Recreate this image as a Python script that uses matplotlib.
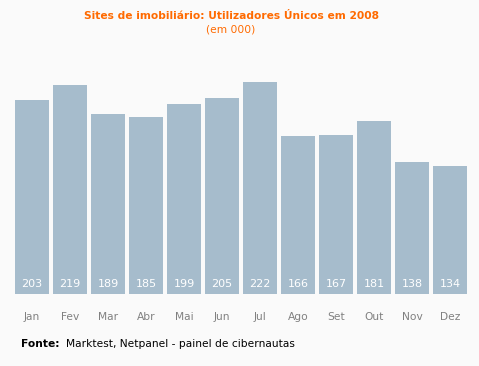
import matplotlib
matplotlib.use('Agg')
import matplotlib.pyplot as plt
import numpy as np

plt.rcParams['font.family'] = ['DejaVu Sans']

months = ['Jan', 'Fev', 'Mar', 'Abr', 'Mai', 'Jun', 'Jul', 'Ago', 'Set', 'Out', 'Nov', 'Dez']
users = [203, 219, 189, 185, 199, 205, 222, 166, 167, 181, 138, 134]

BG = '#fafafa'
BAR = '#a6bccc'
ORANGE = '#ff6a00'

fig = plt.figure(figsize=(4.79, 3.66), dpi=100, facecolor=BG)
ax = fig.add_axes([13 / 479, 72 / 366, 456 / 479, 229 / 366])
ax.set_facecolor(BG)

x = np.arange(len(months))
ax.bar(x, users, width=0.895, color=BAR, edgecolor='none')
ax.set_xlim(-0.5, len(months) - 0.5)
ax.set_ylim(0, 240)

for xi, v in zip(x, users):
    ax.text(xi, 10, str(v), ha='center', va='center', color='white', fontsize=8)

ax.set_xticks(x)
ax.set_xticklabels(months, fontsize=7.7, color='#808080')
ax.tick_params(axis='x', length=0, pad=13)
ax.set_yticks([])
for s in ax.spines.values():
    s.set_visible(False)

fig.text(231 / 479, 1 - 16 / 366, 'Sites de imobiliário: Utilizadores Únicos em 2008',
         ha='center', va='center', color=ORANGE, fontsize=7.7, fontweight='bold')
fig.text(231 / 479, 1 - 29 / 366, '(em 000)', ha='center', va='center', color=ORANGE, fontsize=7.7)

fig.text(21 / 479, 1 - 344 / 366, 'Fonte:', ha='left', va='center', color='black',
         fontsize=7.7, fontweight='bold')
fig.text(66 / 479, 1 - 344 / 366, 'Marktest, Netpanel - painel de cibernautas',
         ha='left', va='center', color='black', fontsize=7.7)

fig.savefig('out.png', dpi=100, facecolor=BG)
